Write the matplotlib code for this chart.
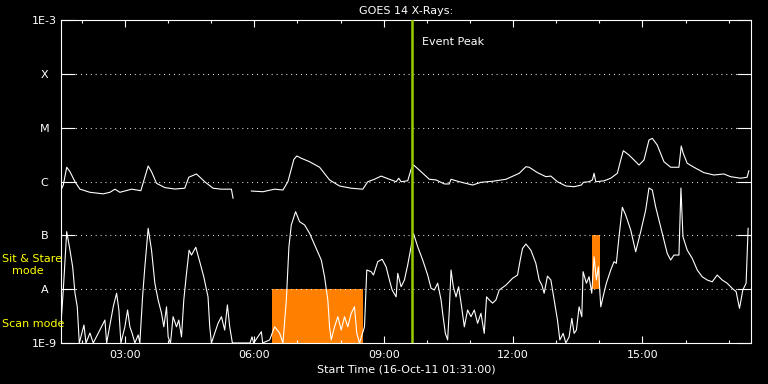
import numpy as np
import matplotlib
matplotlib.use("Agg")
import matplotlib.pyplot as plt
from matplotlib.ticker import MultipleLocator, NullLocator, FuncFormatter

# ------------------- data: hours UT on 16-Oct-2011, flux in W/m^2 ------------------- #
t_start = 1.5167      # 01:31
t_end = 17.5167
event_peak = 9.65     # 09:39

level_flux = [1e-9, 1e-8, 1e-7, 1e-6, 1e-5, 1e-4, 1e-3]
level_names = ['1E-9', 'A', 'B', 'C', 'M', 'X', '1E-3']

# long channel (1-8 A), a data gap around 05:45
long_time = [1.517, 1.570, 1.649, 1.725, 1.841, 1.957, 2.188, 2.496, 2.651, 2.767,
             2.882, 3.153, 3.368, 3.538, 3.616, 3.732, 3.924, 4.156, 4.387, 4.480,
             4.658, 4.850, 5.042, 5.237, 5.468, 5.506, 5.700, 5.931, 6.200, 6.470,
             6.663, 6.778, 6.917, 6.987, 7.089, 7.281, 7.513, 7.744, 7.975, 8.246,
             8.514, 8.630, 8.785, 8.940, 9.132, 9.288, 9.348, 9.403, 9.556, 9.635,
             9.695, 9.866, 10.058, 10.213, 10.406, 10.521, 10.561, 10.753, 11.061, 11.255,
             11.524, 11.834, 12.142, 12.297, 12.373, 12.566, 12.760, 12.876, 13.029, 13.223,
             13.415, 13.584, 13.630, 13.762, 13.839, 13.878, 13.917, 14.109, 14.264, 14.417,
             14.496, 14.556, 14.688, 14.804, 14.920, 15.035, 15.151, 15.228, 15.343, 15.498,
             15.654, 15.846, 15.899, 15.945, 16.038, 16.193, 16.424, 16.656, 16.887, 17.042,
             17.274, 17.427, 17.466]
long_flux = [6.95e-7, 8.6e-7, 1.84e-6, 1.52e-6, 9.9e-7, 7.2e-7, 6.3e-7, 5.9e-7, 6.3e-7, 7.2e-7,
             6.3e-7, 7.2e-7, 6.75e-7, 1.94e-6, 1.52e-6, 9.25e-7, 7.7e-7, 7.25e-7, 7.5e-7, 1.2e-6,
             1.38e-6, 9.9e-7, 7.5e-7, 7.2e-7, 7.2e-7, 4.9e-7, np.nan, 6.65e-7, 6.46e-7, 7.2e-7,
             6.95e-7, 9.9e-7, 2.58e-6, 2.98e-6, 2.7e-6, 2.33e-6, 1.84e-6, 1.07e-6, 8.25e-7, 7.5e-7,
             7.2e-7, 9.9e-7, 1.1e-6, 1.26e-6, 1.1e-6, 9.9e-7, 1.15e-6, 9.9e-7, 1.03e-6, 1.68e-6,
             2.02e-6, 1.52e-6, 1.1e-6, 1.07e-6, 9.0e-7, 9.0e-7, 1.1e-6, 9.9e-7, 8.6e-7, 9.66e-7,
             1.01e-6, 1.1e-6, 1.42e-6, 1.88e-6, 1.84e-6, 1.46e-6, 1.23e-6, 1.26e-6, 9.9e-7, 8.25e-7,
             8.0e-7, 8.6e-7, 9.66e-7, 9.9e-7, 1.07e-6, 1.42e-6, 9.9e-7, 1.03e-6, 1.15e-6, 1.42e-6,
             2.51e-6, 3.73e-6, 3.1e-6, 2.51e-6, 2.02e-6, 2.51e-6, 5.9e-6, 6.34e-6, 4.76e-6, 2.33e-6,
             1.84e-6, 1.84e-6, 4.56e-6, 3.34e-6, 2.18e-6, 1.84e-6, 1.46e-6, 1.32e-6, 1.38e-6, 1.23e-6,
             1.15e-6, 1.2e-6, 1.58e-6]

# short channel (0.5-4 A)
short_time = [1.517, 1.570, 1.649, 1.725, 1.787, 1.841, 1.894, 1.941, 2.049, 2.096,
              2.188, 2.265, 2.535, 2.575, 2.728, 2.806, 2.859, 2.906, 2.998, 3.061,
              3.114, 3.167, 3.230, 3.306, 3.345, 3.408, 3.461, 3.538, 3.616, 3.693,
              3.769, 3.848, 3.901, 3.964, 4.001, 4.056, 4.116, 4.195, 4.248, 4.311,
              4.364, 4.427, 4.487, 4.542, 4.642, 4.734, 4.827, 4.926, 4.966, 5.005,
              5.081, 5.158, 5.237, 5.313, 5.375, 5.429, 5.491, 5.900, 5.945, 5.985,
              6.163, 6.193, 6.355, 6.470, 6.586, 6.663, 6.742, 6.802, 6.857, 6.957,
              7.049, 7.165, 7.281, 7.436, 7.552, 7.628, 7.704, 7.744, 7.783, 7.860,
              7.936, 8.015, 8.091, 8.167, 8.246, 8.322, 8.376, 8.438, 8.554, 8.607,
              8.709, 8.762, 8.862, 8.963, 9.056, 9.132, 9.195, 9.288, 9.325, 9.403,
              9.480, 9.556, 9.635, 9.688, 9.788, 9.904, 10.019, 10.098, 10.174, 10.251,
              10.330, 10.367, 10.429, 10.482, 10.521, 10.561, 10.614, 10.677, 10.737, 10.806,
              10.869, 10.945, 11.024, 11.100, 11.177, 11.255, 11.331, 11.385, 11.447, 11.524,
              11.602, 11.679, 11.834, 11.987, 12.103, 12.158, 12.218, 12.297, 12.412, 12.528,
              12.605, 12.667, 12.720, 12.797, 12.876, 12.952, 13.029, 13.084, 13.161, 13.223,
              13.299, 13.362, 13.415, 13.468, 13.531, 13.593, 13.623, 13.700, 13.762, 13.824,
              13.878, 13.931, 13.978, 14.033, 14.086, 14.163, 14.264, 14.341, 14.394, 14.456,
              14.533, 14.611, 14.727, 14.843, 14.959, 15.075, 15.151, 15.228, 15.305, 15.459,
              15.575, 15.654, 15.730, 15.846, 15.892, 15.939, 16.038, 16.154, 16.270, 16.385,
              16.501, 16.617, 16.733, 16.848, 16.964, 17.079, 17.172, 17.250, 17.327, 17.403,
              17.450]
short_flux = [2.32e-9, 9.65e-9, 1.17e-7, 5.3e-8, 2.6e-8, 8.4e-9, 4.7e-9, 1e-9, 2.16e-9, 1e-9,
              1.53e-9, 1e-9, 2.67e-9, 1e-9, 4.7e-9, 8.4e-9, 4.1e-9, 1e-9, 2.0e-9, 4.1e-9,
              2.0e-9, 1.51e-9, 1e-9, 1.41e-9, 1e-9, 7.2e-9, 2.6e-8, 1.35e-7, 5.3e-8, 1.29e-8,
              6.3e-9, 3.56e-9, 2.0e-9, 4.7e-9, 1.3e-9, 1e-9, 3.08e-9, 2.0e-9, 2.67e-9, 1.3e-9,
              6.3e-9, 1.97e-8, 5.3e-8, 4.3e-8, 6.0e-8, 3.24e-8, 1.7e-8, 7.2e-9, 2.0e-9, 1e-9,
              1.51e-9, 2.32e-9, 3.08e-9, 1.74e-9, 5.1e-9, 2.0e-9, 1e-9, 1e-9, 1.3e-9, 1e-9,
              1.62e-9, 1e-9, 1.14e-9, 2.0e-9, 1.53e-9, 1e-9, 6.3e-9, 6.15e-8, 1.56e-7, 2.75e-7,
              1.79e-7, 1.56e-7, 1.09e-7, 5.7e-8, 3.48e-8, 1.7e-8, 6.3e-9, 2.0e-9, 1.14e-9, 2.0e-9,
              3.08e-9, 1.74e-9, 3.08e-9, 2.0e-9, 3.56e-9, 4.7e-9, 1.51e-9, 1e-9, 2.0e-9, 2.27e-8,
              2.11e-8, 1.83e-8, 3.24e-8, 3.59e-8, 2.6e-8, 1.48e-8, 9.65e-9, 7.2e-9, 1.97e-8, 1.11e-8,
              1.48e-8, 2.81e-8, 6.15e-8, 1.09e-7, 6.15e-8, 3.48e-8, 1.83e-8, 1.04e-8, 9.65e-9, 1.29e-8,
              6.3e-9, 3.56e-9, 1.51e-9, 1.14e-9, 4.1e-9, 2.27e-8, 1.11e-8, 7.2e-9, 1.11e-8, 4.7e-9,
              2.0e-9, 4.1e-9, 3.08e-9, 4.1e-9, 2.32e-9, 3.56e-9, 1.51e-9, 7.2e-9, 6.3e-9, 5.5e-9,
              6.3e-9, 9.65e-9, 1.19e-8, 1.59e-8, 1.83e-8, 3.24e-8, 5.7e-8, 6.9e-8, 5.3e-8, 3.02e-8,
              1.48e-8, 1.19e-8, 8.4e-9, 1.75e-8, 1.48e-8, 6.3e-9, 2.67e-9, 1.14e-9, 1.51e-9, 1e-9,
              1.3e-9, 2.87e-9, 1.51e-9, 1.74e-9, 4.7e-9, 3.08e-9, 2.11e-8, 1.29e-8, 1.7e-8, 8.4e-9,
              4.0e-8, 1.48e-8, 2.6e-8, 4.7e-9, 7.2e-9, 1.29e-8, 2.27e-8, 3.24e-8, 3.02e-8, 9.4e-8,
              3.32e-7, 2.38e-7, 1.26e-7, 4.96e-8, 1.17e-7, 2.95e-7, 7.57e-7, 6.95e-7, 3.4e-7, 1.09e-7,
              4.6e-8, 3.48e-8, 4.3e-8, 4.3e-8, 7.57e-7, 9.4e-8, 5.3e-8, 3.74e-8, 2.27e-8, 1.7e-8,
              1.48e-8, 1.37e-8, 1.83e-8, 1.48e-8, 1.29e-8, 1.04e-8, 8.97e-9, 4.4e-9, 9.65e-9, 1.29e-8,
              1.35e-7]

# observing mode boxes (scan mode, sit & stare mode)
box_start = [6.42, 13.83]
box_end = [8.53, 14.01]
box_low = [1e-9, 1e-8]
box_high = [1e-8, 1e-7]

# -------------------------- figure -------------------------- #
fig = plt.figure(figsize=(7.68, 3.84), dpi=100, facecolor='black')
ax = fig.add_axes([61/768, 1 - 343/384, 690/768, 323/384], facecolor='black')

ax.set_yscale('log')
ax.set_xlim(t_start, t_end)
ax.set_ylim(level_flux[0], level_flux[-1])

# orange mode boxes
for x0, x1, lo, hi in zip(box_start, box_end, box_low, box_high):
    ax.fill_between([x0, x1], lo, hi, color='#FF8000', linewidth=0, zorder=1)

# dotted level lines
for lev in level_flux[1:-1]:
    ax.axhline(lev, color='white', lw=0.8, ls=(0, (0.8, 3.6)), zorder=1)

ax.plot(long_time, long_flux, color='white', lw=0.8, zorder=2)
ax.plot(short_time, short_flux, color='white', lw=0.8, zorder=2)

ax.axvline(event_peak, color='#99CC00', lw=1.8, zorder=3)
ax.annotate('Event Peak', xy=(event_peak, 1), xycoords=('data', 'axes fraction'),
            xytext=(7.5, -16), textcoords='offset points', color='white',
            fontsize=8, ha='left', va='center')

# axes style
for s in ax.spines.values():
    s.set_color('white')
    s.set_linewidth(0.8)

ax.set_yticks(level_flux)
ax.set_yticklabels(level_names, ha='center')
ax.yaxis.set_minor_locator(NullLocator())
ax.tick_params(axis='y', which='major', direction='in', length=10, width=0.8,
               right=True, color='white', labelcolor='white', labelsize=8, pad=12)

ax.xaxis.set_major_locator(MultipleLocator(3))
ax.xaxis.set_minor_locator(MultipleLocator(1))
ax.xaxis.set_major_formatter(FuncFormatter(lambda h, pos: '%02d:%02d' % (int(h), round((h % 1) * 60))))
ax.tick_params(axis='x', which='major', direction='in', length=5, width=0.8, top=True,
               color='white', labelcolor='white', labelsize=8, pad=5)
ax.tick_params(axis='x', which='minor', direction='in', length=2.5, width=0.8, top=True,
               color='white')

ax.set_title('GOES 14 X-Rays:', color='white', fontsize=8, pad=4)
ax.set_xlabel('Start Time (16-Oct-11 01:31:00)', color='white', fontsize=8, labelpad=3)

# mode labels on the left
fig.text(2/768, 1 - 259/384, 'Sit & Stare', color='yellow', fontsize=8, ha='left', va='center')
fig.text(12/768, 1 - 271/384, 'mode', color='yellow', fontsize=8, ha='left', va='center')
fig.text(2/768, 1 - 324/384, 'Scan mode', color='yellow', fontsize=8, ha='left', va='center')

fig.savefig('out.png', dpi=100, facecolor='black')
